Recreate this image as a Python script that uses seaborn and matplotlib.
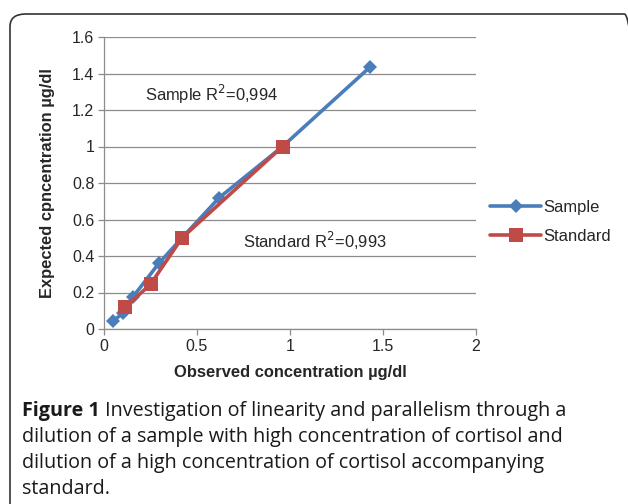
import matplotlib
matplotlib.use("Agg")
import matplotlib.pyplot as plt
import seaborn as sns
import pandas as pd
from matplotlib.patches import FancyBboxPatch

sample_x = [0.05, 0.10, 0.155, 0.295, 0.42, 0.62, 0.96, 1.43]
sample_y = [0.045, 0.085, 0.175, 0.36, 0.50, 0.72, 1.00, 1.435]
standard_x = [0.115, 0.25, 0.42, 0.96]
standard_y = [0.12, 0.245, 0.50, 1.00]
series_names = ["Sample", "Standard"]
x_ticks = [0, 0.5, 1, 1.5, 2]
x_tick_labels = ["0", "0.5", "1", "1.5", "2"]
y_ticks = [0, 0.2, 0.4, 0.6, 0.8, 1.0, 1.2, 1.4, 1.6]
y_tick_labels = ["0", "0.2", "0.4", "0.6", "0.8", "1", "1.2", "1.4", "1.6"]

df = pd.DataFrame({
    "x": sample_x + standard_x,
    "y": sample_y + standard_y,
    "series": [series_names[0]] * len(sample_x) + [series_names[1]] * len(standard_x),
})

sns.set_style("white")
plt.rcParams["font.family"] = ["Liberation Sans", "DejaVu Sans"]

fig = plt.figure(figsize=(6.28, 5.04), dpi=100)
ax = fig.add_axes([104 / 628, 1 - 329 / 504, (476 - 104) / 628, (329 - 37) / 504])

blue = "#4A7EBB"
red = "#BE4B48"
sns.lineplot(data=df, x="x", y="y", hue="series", style="series",
             palette={"Sample": blue, "Standard": red},
             markers={"Sample": "D", "Standard": "s"},
             dashes=False, sort=False, ax=ax, linewidth=2.6,
             markersize=8, markeredgewidth=0, estimator=None)
for line in ax.get_lines():
    if line.get_color() == red:
        line.set_markersize(10)
    else:
        line.set_markersize(7)

ax.set_xlim(0, 2)
ax.set_ylim(0, 1.6)
ax.set_xticks(x_ticks)
ax.set_xticklabels(x_tick_labels, fontsize=11.5)
ax.set_yticks(y_ticks)
ax.set_yticklabels(y_tick_labels, fontsize=11.5)
ax.yaxis.grid(True, color="#8c8c8c", linewidth=0.9)
ax.xaxis.grid(False)
for s in ["top", "right"]:
    ax.spines[s].set_visible(False)
for s in ["left", "bottom"]:
    ax.spines[s].set_color("#8c8c8c")
    ax.spines[s].set_linewidth(0.9)
ax.tick_params(axis="both", direction="out", length=4, color="#8c8c8c", width=0.9,
               bottom=True, left=True, pad=3)
ax.set_xlabel("Observed concentration µg/dl", fontsize=11.9, fontweight="bold", labelpad=8)
ax.set_ylabel("Expected cpncentration µg/dl", fontsize=11.9, fontweight="bold", labelpad=12)

ax.text(0.22, 1.285, "Sample R$^2$=0,994", fontsize=11.9, va="center", ha="left")
ax.text(0.75, 0.485, "Standard R$^2$=0,993", fontsize=11.9, va="center", ha="left")

handles, labels = ax.get_legend_handles_labels()
leg = ax.legend(handles, labels, loc="center left", bbox_to_anchor=(1.016, 0.366),
                frameon=False, fontsize=11.9, handlelength=3.1, handletextpad=0.1,
                labelspacing=0.85, borderpad=0)
for h in leg.legend_handles:
    h.set_linewidth(2.6)

cap_font = ["Open Sans", "DejaVu Sans"]
lines = [
    (True, "Figure 1", " Investigation of linearity and parallelism through a"),
    (False, "", "dilution of a sample with high concentration of cortisol and"),
    (False, "", "dilution of a high concentration of cortisol accompanying"),
    (False, "", "standard."),
]
y0 = 411
for i, (bold, b, rest) in enumerate(lines):
    ypix = y0 + i * 26
    yf = 1 - ypix / 504
    if bold:
        t = fig.text(22 / 628, yf, b, fontsize=14.2, fontweight="bold", family=cap_font,
                     color="#1a1a1a", va="center", ha="left")
        fig.canvas.draw()
        bb = t.get_window_extent()
        fig.text(bb.x1 / fig.bbox.width, yf, rest, fontsize=14.2, family=cap_font,
                 color="#1a1a1a", va="center", ha="left")
    else:
        fig.text(22 / 628, yf, rest, fontsize=14.2, family=cap_font,
                 color="#1a1a1a", va="center", ha="left")

box = FancyBboxPatch((10 / 628, -0.05), 630 / 628, 1 - 14 / 504 + 0.05,
                     boxstyle="round,pad=0,rounding_size=0.025",
                     transform=fig.transFigure, fill=False, edgecolor="#333333",
                     linewidth=1.2, clip_on=False)
fig.patches.append(box)

fig.savefig("out.png", dpi=100)
